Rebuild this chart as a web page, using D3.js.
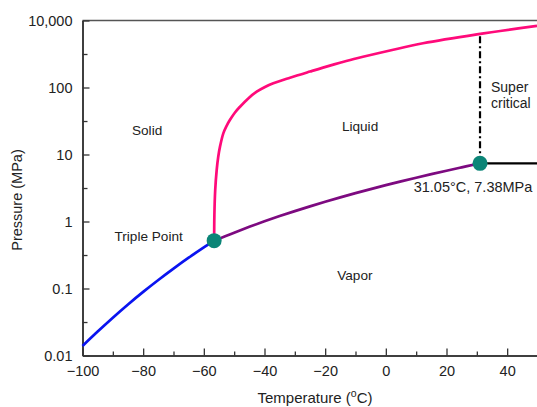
<!DOCTYPE html>
<html><head><meta charset="utf-8">
<script src="https://cdn.jsdelivr.net/npm/d3@7"></script>
<style>
body{margin:0;background:#fff;}
text{font-family:"Liberation Sans",Arial,sans-serif;fill:#222;}
</style></head>
<body><svg id="c" width="537" height="407"></svg>
<script>
// ---- data ----
const sublimT = [-100,-95,-90,-85,-80,-75,-70,-65,-60,-56.6];
const sublimP = [0.0139,0.0228,0.0367,0.0578,0.0890,0.134,0.198,0.288,0.410,0.518];
const vaporT = [-56.6,-50,-45,-40,-35,-30,-25,-20,-15,-10,-5,0,5,10,15,20,25,30,31.05];
const vaporP = [0.518,0.682,0.832,1.005,1.204,1.428,1.683,1.970,2.290,2.649,3.046,3.485,3.969,4.502,5.086,5.729,6.434,7.214,7.38];
const meltT = [-56.6,-56.52,-56.25,-55.76,-55.26,-54.67,-53.58,-52.53,-51.37,-49.73,-48.08,-45.44,-42.57,-39.84,-37.10,-31.59,-25.0,-20.71,-15.11,-9.51,1.37,12.25,30.05,49.84];
const meltP = [0.518,1.25,2.95,5.87,9.18,13.1,20.7,26.6,33.0,42.4,51.6,68.2,86.5,103.5,133.4,196,300,393,546,745,1271,2099,3873,6902];
const superT = [31.05,31.05];
const superP = [7.38,3950];
const critLineT = [31.05,50];
const critLineP = [7.38,7.38];
const pointsT = [-56.6,31.05];
const pointsP = [0.518,7.38];
const xMajor = [-100,-80,-60,-40,-20,0,20,40];
const xMinor = [-90,-70,-50,-30,-10,10,30,50];
const yMajor = [0.01,0.1,1,10,100,10000];
const yMajorLabels = ["0.01","0.1","1","10","100","10,000"];
const yMinor = [0.0316,0.316,3.16,31.6,1000];
const regionLabels = [
  {t:"Solid", T:-78.7, P:23},
  {t:"Liquid", T:-8.5, P:26.6},
  {t:"Triple Point", T:-78.2, P:0.593},
  {t:"Vapor", T:-10.2, P:0.159}
];

const svg = d3.select("#c");
const x = d3.scaleLinear().domain([-100,50]).range([82.5,537.5]);
const y = d3.scaleLog().domain([0.01,100,10000]).range([355.5,87.5,20.5]);

// top frame line
svg.append("line").attr("x1",x(-100)).attr("x2",537).attr("y1",y(10000)).attr("y2",y(10000))
  .attr("stroke","#555").attr("stroke-width",1.5);

// axes
const fs = "14.5px";
const gx = svg.append("g").attr("transform",`translate(0,${y(0.01)})`)
  .call(d3.axisBottom(x).tickValues(xMajor).tickSizeInner(-7).tickSizeOuter(0).tickPadding(10)
    .tickFormat(d=>d<0?"\u2212"+Math.abs(d):d));
const gx2 = svg.append("g").attr("transform",`translate(0,${y(0.01)})`)
  .call(d3.axisBottom(x).tickValues(xMinor).tickSizeInner(-4).tickSizeOuter(0).tickFormat(""));
const gy = svg.append("g").attr("transform",`translate(${x(-100)},0)`)
  .call(d3.axisLeft(y).tickValues(yMajor).tickSizeInner(-7).tickSizeOuter(0).tickPadding(10)
    .tickFormat((d,i)=>yMajorLabels[i]));
const gy2 = svg.append("g").attr("transform",`translate(${x(-100)},0)`)
  .call(d3.axisLeft(y).tickValues(yMinor).tickSizeInner(-5).tickSizeOuter(0).tickFormat(""));
[gx,gx2,gy,gy2].forEach(g=>{
  g.selectAll("path").attr("stroke","#333").attr("stroke-width",1.5);
  g.selectAll("line").attr("stroke","#333").attr("stroke-width",1.3);
  g.selectAll("text").style("font-size",fs).style("font-family","'Liberation Sans',Arial,sans-serif").attr("fill","#333");
});

// curves
function pts(T,P){return T.map((t,i)=>[x(t),y(P[i])]);}
const line = d3.line().curve(d3.curveMonotoneX);
const smooth = d3.line().curve(d3.curveCatmullRom.alpha(0.5));
svg.append("path").attr("d",line(pts(sublimT,sublimP))).attr("fill","none").attr("stroke","#0a14f0").attr("stroke-width",2.7);
svg.append("path").attr("d",line(pts(vaporT,vaporP))).attr("fill","none").attr("stroke","#7d0a80").attr("stroke-width",2.7);
svg.append("path").attr("d",smooth(pts(meltT,meltP))).attr("fill","none").attr("stroke","#ff0a7a").attr("stroke-width",2.7);
svg.append("path").attr("d",d3.line()(pts(superT,superP))).attr("fill","none").attr("stroke","#000").attr("stroke-width",2.2)
  .attr("stroke-dasharray","7,3,2,3");
svg.append("path").attr("d",d3.line()(pts(critLineT,critLineP))).attr("fill","none").attr("stroke","#000").attr("stroke-width",2.2);

// points
svg.selectAll("circle.p").data(pointsT).enter().append("circle")
  .attr("cx",(d)=>x(d)).attr("cy",(d,i)=>y(pointsP[i])).attr("r",7.5).attr("fill","#0b8577");

// labels
regionLabels.forEach(l=>{
  svg.append("text").attr("x",x(l.T)).attr("y",y(l.P)).attr("text-anchor","middle")
    .attr("dy","0.35em").style("font-size","13.6px").text(l.t);
});
const sc = svg.append("text").attr("x",491).attr("y",92).style("font-size","14px");
sc.append("tspan").attr("x",491).text("Super");
sc.append("tspan").attr("x",491).attr("dy","16").text("critical");
svg.append("text").attr("x",473).attr("y",192).attr("text-anchor","middle").style("font-size","14.5px")
  .text("31.05\u00B0C, 7.38MPa");

// axis titles
const xt = svg.append("text").attr("x",315).attr("y",403).attr("text-anchor","middle").style("font-size","15px");
xt.append("tspan").text("Temperature (");
xt.append("tspan").attr("dy","-6").style("font-size","10.5px").text("o");
xt.append("tspan").attr("dy","6").text("C)");
svg.append("text").attr("transform","translate(22,200) rotate(-90)").attr("text-anchor","middle")
  .style("font-size","14.5px").text("Pressure (MPa)");
</script></body></html>
